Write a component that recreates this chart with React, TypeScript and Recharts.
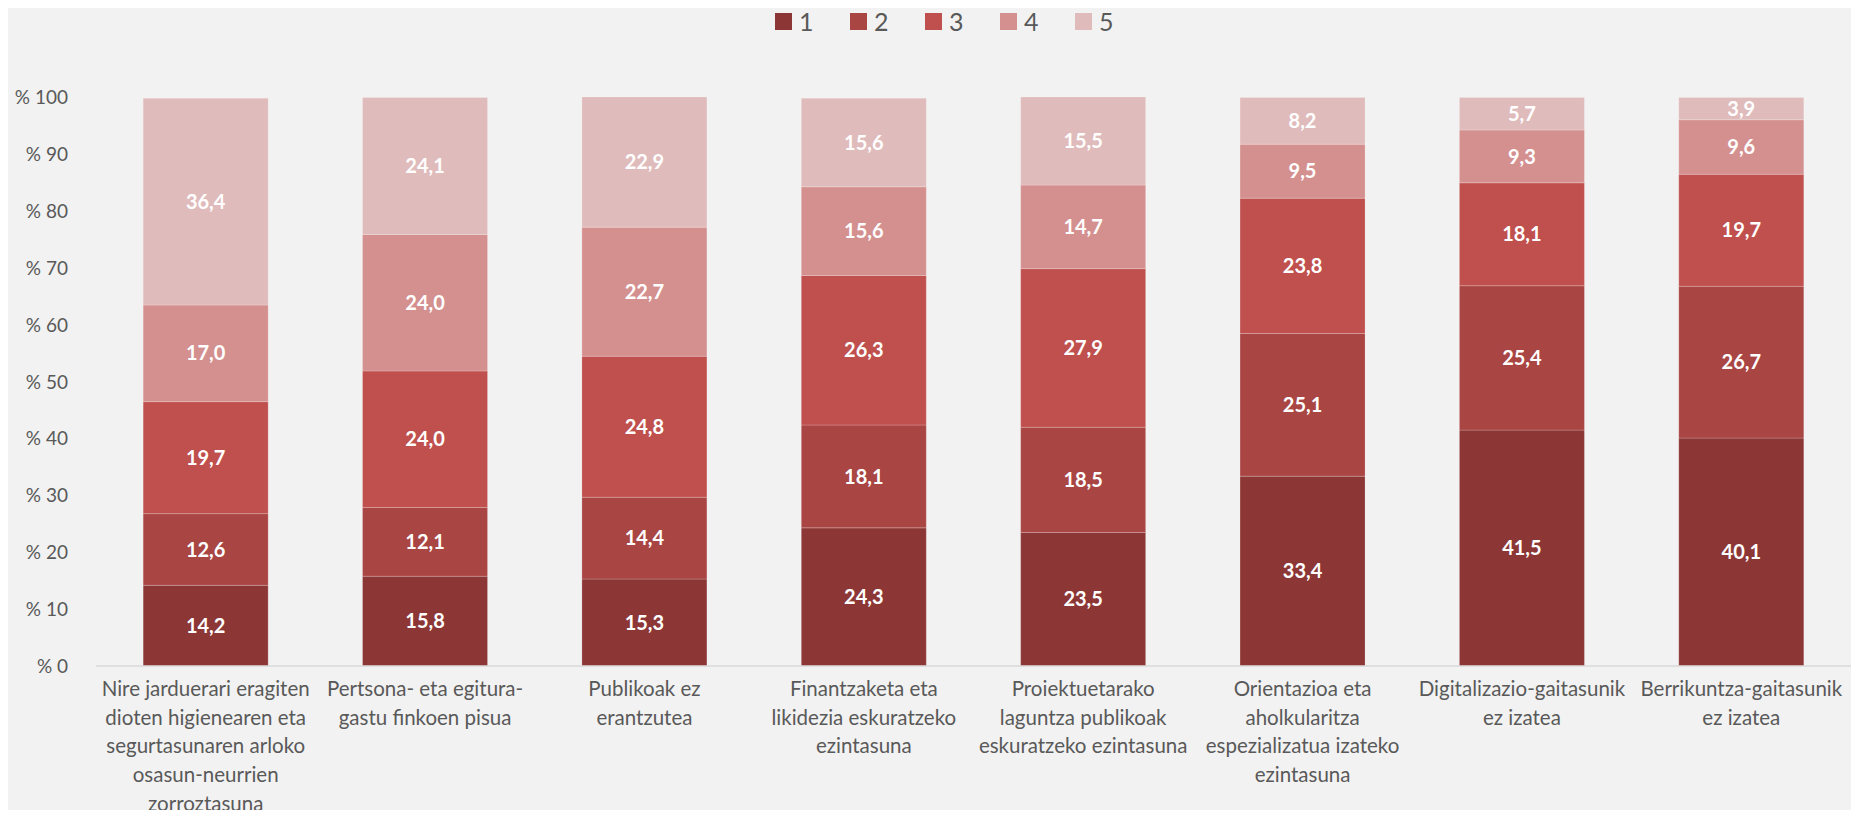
import { Bar, BarChart, LabelList, Legend, XAxis, YAxis } from "recharts";

const categories = [
  "Nire jarduerari eragiten\ndioten higienearen eta\nsegurtasunaren arloko\nosasun-neurrien\nzorroztasuna",
  "Pertsona- eta egitura-\ngastu finkoen pisua",
  "Publikoak ez\nerantzutea",
  "Finantzaketa eta\nlikidezia eskuratzeko\nezintasuna",
  "Proiektuetarako\nlaguntza publikoak\neskuratzeko ezintasuna",
  "Orientazioa eta\naholkularitza\nespezializatua izateko\nezintasuna",
  "Digitalizazio-gaitasunik\nez izatea",
  "Berrikuntza-gaitasunik\nez izatea",
];

const s1 = [14.2, 15.8, 15.3, 24.3, 23.5, 33.4, 41.5, 40.1];
const s2 = [12.6, 12.1, 14.4, 18.1, 18.5, 25.1, 25.4, 26.7];
const s3 = [19.7, 24.0, 24.8, 26.3, 27.9, 23.8, 18.1, 19.7];
const s4 = [17.0, 24.0, 22.7, 15.6, 14.7, 9.5, 9.3, 9.6];
const s5 = [36.4, 24.1, 22.9, 15.6, 15.5, 8.2, 5.7, 3.9];

const yTicks = [0, 10, 20, 30, 40, 50, 60, 70, 80, 90, 100];

const series = [
  { key: "1", values: s1, color: "#8c3736" },
  { key: "2", values: s2, color: "#a94543" },
  { key: "3", values: s3, color: "#c0504d" },
  { key: "4", values: s4, color: "#d4908f" },
  { key: "5", values: s5, color: "#e0bbbb" },
];

const data = categories.map((name, i) => {
  const row: Record<string, string | number> = { name };
  series.forEach((s) => (row[s.key] = s.values[i]));
  return row;
});

const FONT = "Lato, 'Open Sans', sans-serif";
const GREY = "#595959";

function CategoryTick({ x, y, payload }: any) {
  const lines = String(payload.value).split("\n");
  return (
    <text x={x} y={y} textAnchor="middle" fill={GREY} fontSize={20.5} fontFamily={FONT}>
      {lines.map((l, i) => (
        <tspan key={i} x={x} y={y + 22 + i * 28.7}>
          {l}
        </tspan>
      ))}
    </text>
  );
}

function TopLegend() {
  return (
    <div
      style={{
        display: "flex",
        paddingLeft: 775,
        fontFamily: FONT,
        fontSize: 25,
        color: GREY,
      }}
    >
      {series.map((s) => (
        <div key={s.key} style={{ display: "flex", alignItems: "center", width: 75 }}>
          <span style={{ width: 17, height: 17, background: s.color, marginRight: 7 }} />
          <span>{s.key}</span>
        </div>
      ))}
    </div>
  );
}

export default function App() {
  return (
    <div style={{ width: 1859, height: 818, background: "#f2f2f2", margin: -8 }}>
      <BarChart
        width={1859}
        height={818}
        data={data}
        barCategoryGap="21.5%"
        margin={{ top: 6, right: 8, bottom: 0, left: 0 }}
      >
        <Legend
          verticalAlign="top"
          height={91}
          content={<TopLegend />}
          wrapperStyle={{ left: 0, width: 1859, top: 6 }}
        />
        <XAxis
          dataKey="name"
          interval={0}
          height={152}
          tickLine={false}
          axisLine={{ stroke: "#d9d9d9", strokeWidth: 1.5 }}
          tick={<CategoryTick />}
        />
        <YAxis
          domain={[0, 100]}
          ticks={yTicks}
          width={96}
          axisLine={false}
          tickLine={false}
          tickSize={0}
          tickMargin={28}
          tick={{ fill: GREY, fontSize: 19, fontFamily: FONT }}
          tickFormatter={(v: number) => `% ${v}`}
        />
        {series.map((s) => (
          <Bar
            key={s.key}
            dataKey={s.key}
            stackId="a"
            fill={s.color}
            stroke="rgba(255,255,255,0.2)"
            strokeWidth={1}
            isAnimationActive={false}
          >
            <LabelList
              dataKey={s.key}
              position="center"
              fill="#ffffff"
              fontSize={20}
              fontWeight={700}
              fontFamily={FONT}
              formatter={(v: any) => Number(v).toFixed(1).replace(".", ",")}
            />
          </Bar>
        ))}
      </BarChart>
    </div>
  );
}
